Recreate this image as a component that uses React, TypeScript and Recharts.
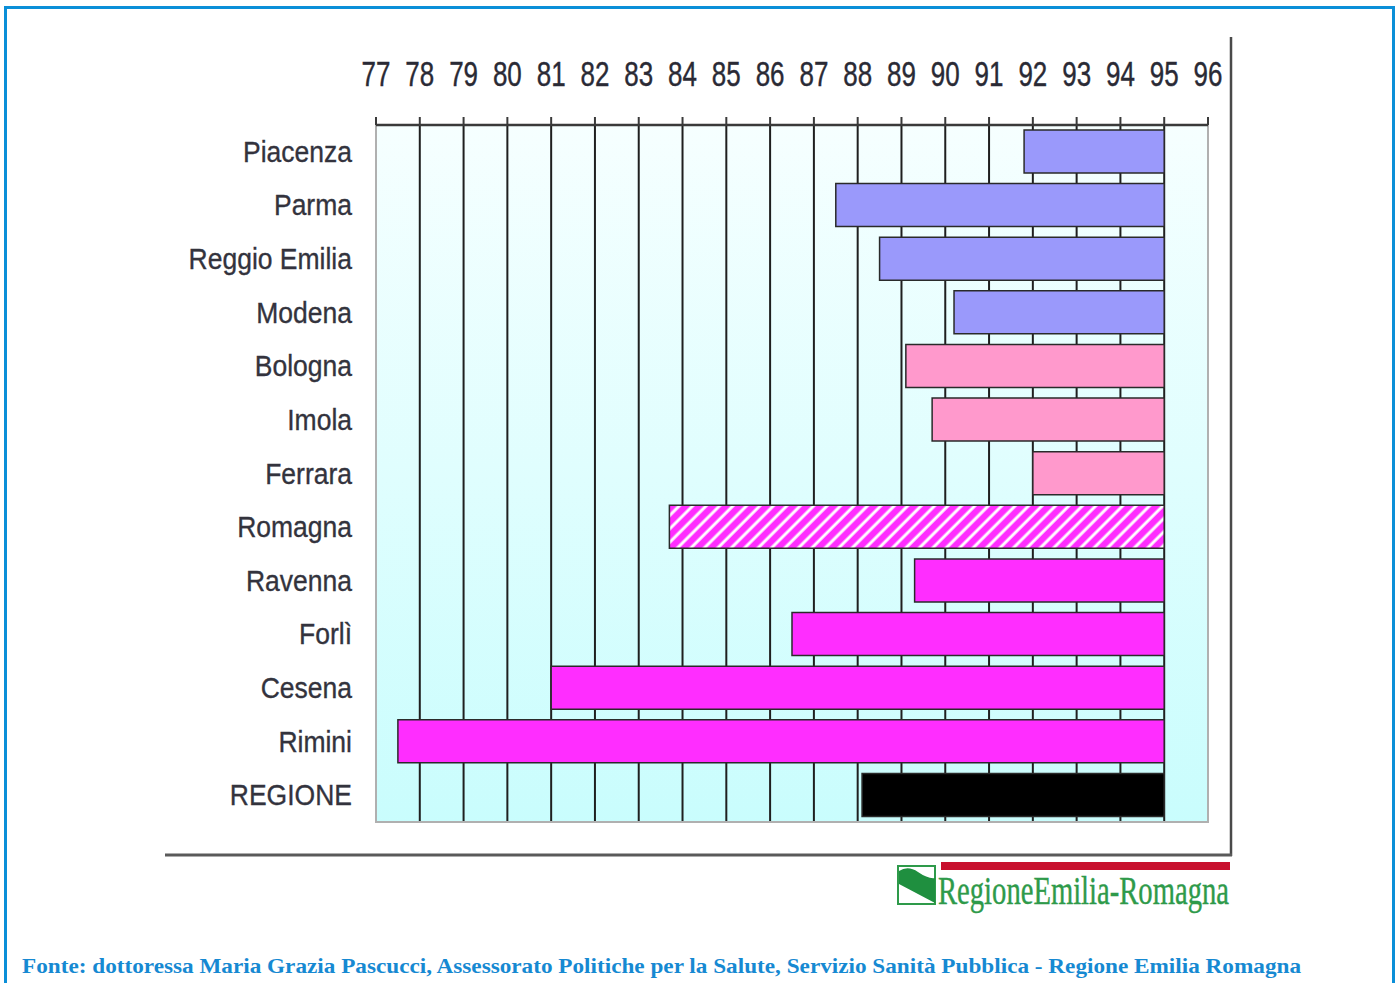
import React from 'react';
import {
  BarChart,
  Bar,
  Cell,
  XAxis,
  YAxis,
  CartesianGrid,
  ReferenceArea
} from 'recharts';

// Categories (top to bottom) and the left end of each bar
const regions = [
  'Piacenza',
  'Parma',
  'Reggio Emilia',
  'Modena',
  'Bologna',
  'Imola',
  'Ferrara',
  'Romagna',
  'Ravenna',
  'Forlì',
  'Cesena',
  'Rimini',
  'REGIONE'
];
const startValues = [91.8, 87.5, 88.5, 90.2, 89.1, 89.7, 92.0, 83.7, 89.3, 86.5, 81.0, 77.5, 88.1];
const endValue = 95;
const areaGroups = [
  'emilia', 'emilia', 'emilia', 'emilia',
  'centro', 'centro', 'centro',
  'romagna',
  'ausl', 'ausl', 'ausl', 'ausl',
  'regione'
];
const axisTicks = [77, 78, 79, 80, 81, 82, 83, 84, 85, 86, 87, 88, 89, 90, 91, 92, 93, 94, 95, 96];
const gridValues = [78, 79, 80, 81, 82, 83, 84, 85, 86, 87, 88, 89, 90, 91, 92, 93, 94, 95];

const sourceText =
  'Fonte: dottoressa Maria Grazia Pascucci, Assessorato Politiche per la Salute, Servizio Sanità Pubblica - Regione Emilia Romagna';

const groupFill: Record<string, string> = {
  emilia: '#9a99fb',
  centro: '#ff99cc',
  romagna: 'url(#hatch)',
  ausl: '#ff2dff',
  regione: '#000000'
};

const chartData = regions.map((name, i) => ({
  name,
  start: startValues[i],
  end: endValue,
  group: areaGroups[i]
}));

const TopTick = (props: any) => {
  const { x, y, payload } = props;
  return (
    <g transform={`translate(${x},${y}) scale(1,1.33)`}>
      <text
        x={0}
        y={0}
        textAnchor="middle"
        fontFamily="'Liberation Sans', Arial, sans-serif"
        fontSize={26}
        fill="#2a2a35"
        stroke="#2a2a35"
        strokeWidth={0.3}
      >
        {payload.value}
      </text>
    </g>
  );
};

const CategoryTick = (props: any) => {
  const { x, y, payload } = props;
  return (
    <g transform={`translate(${x},${y + 10}) scale(1,1.14)`}>
      <text
        x={0}
        y={0}
        textAnchor="end"
        fontFamily="'Liberation Sans', Arial, sans-serif"
        fontSize={26.5}
        fill="#33333d"
        stroke="#33333d"
        strokeWidth={0.3}
      >
        {payload.value}
      </text>
    </g>
  );
};

export default function App() {
  return (
    <div
      style={{
        position: 'absolute',
        left: 0,
        top: 0,
        width: 1398,
        height: 983,
        background: '#fff',
        overflow: 'hidden'
      }}
    >
      <BarChart
        width={1398}
        height={983}
        data={chartData}
        layout="vertical"
        margin={{ top: 65, right: 190, bottom: 161, left: 0 }}
      >
        <defs>
          <linearGradient id="plotBg" x1="0" y1="0" x2="0" y2="1">
            <stop offset="0%" stopColor="#f6ffff" />
            <stop offset="100%" stopColor="#c9fdfd" />
          </linearGradient>
          <pattern
            id="hatch"
            patternUnits="userSpaceOnUse"
            width={9.5}
            height={9.5}
            patternTransform="rotate(45)"
          >
            <rect x={0} y={0} width={9.5} height={9.5} fill="#ff2dff" />
            <line x1={2} y1={0} x2={2} y2={9.5} stroke="#ffffff" strokeWidth={3} />
          </pattern>
        </defs>
        <CartesianGrid
          horizontal={false}
          verticalValues={gridValues}
          stroke="#1f1f1f"
          strokeWidth={2}
          fill="url(#plotBg)"
          fillOpacity={1}
        />
        <ReferenceArea
          x1={77}
          x2={96}
          fill="none"
          stroke="#b0b0b0"
          strokeWidth={2}
          ifOverflow="visible"
        />
        <XAxis
          type="number"
          orientation="top"
          domain={[77, 96]}
          ticks={axisTicks}
          interval={0}
          height={60}
          allowDataOverflow
          stroke="#333"
          axisLine={{ stroke: '#3a3a3a', strokeWidth: 2.5 }}
          tickLine={{ stroke: '#3a3a3a', strokeWidth: 2 }}
          tickSize={8}
          tickMargin={31}
          tick={<TopTick />}
        />
        <YAxis
          type="category"
          dataKey="name"
          width={376}
          axisLine={false}
          tickLine={false}
          tickSize={0}
          tickMargin={24}
          interval={0}
          tick={<CategoryTick />}
        />
        <Bar
          dataKey={(d: any) => [d.start, d.end]}
          barSize={43}
          stroke="#2a2a2a"
          strokeWidth={1.5}
          isAnimationActive={false}
        >
          {chartData.map((d) => (
            <Cell key={d.name} fill={groupFill[d.group]} />
          ))}
        </Bar>
      </BarChart>

      <svg
        width={1398}
        height={983}
        style={{ position: 'absolute', left: 0, top: 0, pointerEvents: 'none' }}
      >
        {/* outer blue frame */}
        <rect x={5.5} y={7.5} width={1388} height={1010} fill="none" stroke="#0b8fd8" strokeWidth={3} />
        {/* chart frame lines */}
        <line x1={1231} y1={37} x2={1231} y2={856} stroke="#4a4a4a" strokeWidth={2.5} />
        <line x1={165} y1={855} x2={1232} y2={855} stroke="#5a5a5a" strokeWidth={3} />
        {/* logo */}
        <rect x={941} y={862} width={289} height={8} fill="#c8102e" />
        <rect x={898} y={866} width={37} height={38} fill="#ffffff" stroke="#2e9a4a" strokeWidth={2} />
        <path d="M899,871 Q908,865 918,872 T935,878 L935,903 L899,884 Z" fill="#1f8f3f" />
        <text
          x={938}
          y={904}
          textLength={291}
          lengthAdjust="spacingAndGlyphs"
          fontFamily="'Liberation Serif', 'DejaVu Serif', serif"
          fontSize={40}
          fill="#2e9a4a"
          stroke="#2e9a4a"
          strokeWidth={0.4}
        >
          RegioneEmilia-Romagna
        </text>
        {/* source line */}
        <text
          x={22}
          y={973}
          textLength={1279}
          lengthAdjust="spacingAndGlyphs"
          fontFamily="'Liberation Serif', 'DejaVu Serif', serif"
          fontWeight="bold"
          fontSize={22}
          fill="#1689d2"
        >
          {sourceText}
        </text>
      </svg>
    </div>
  );
}
